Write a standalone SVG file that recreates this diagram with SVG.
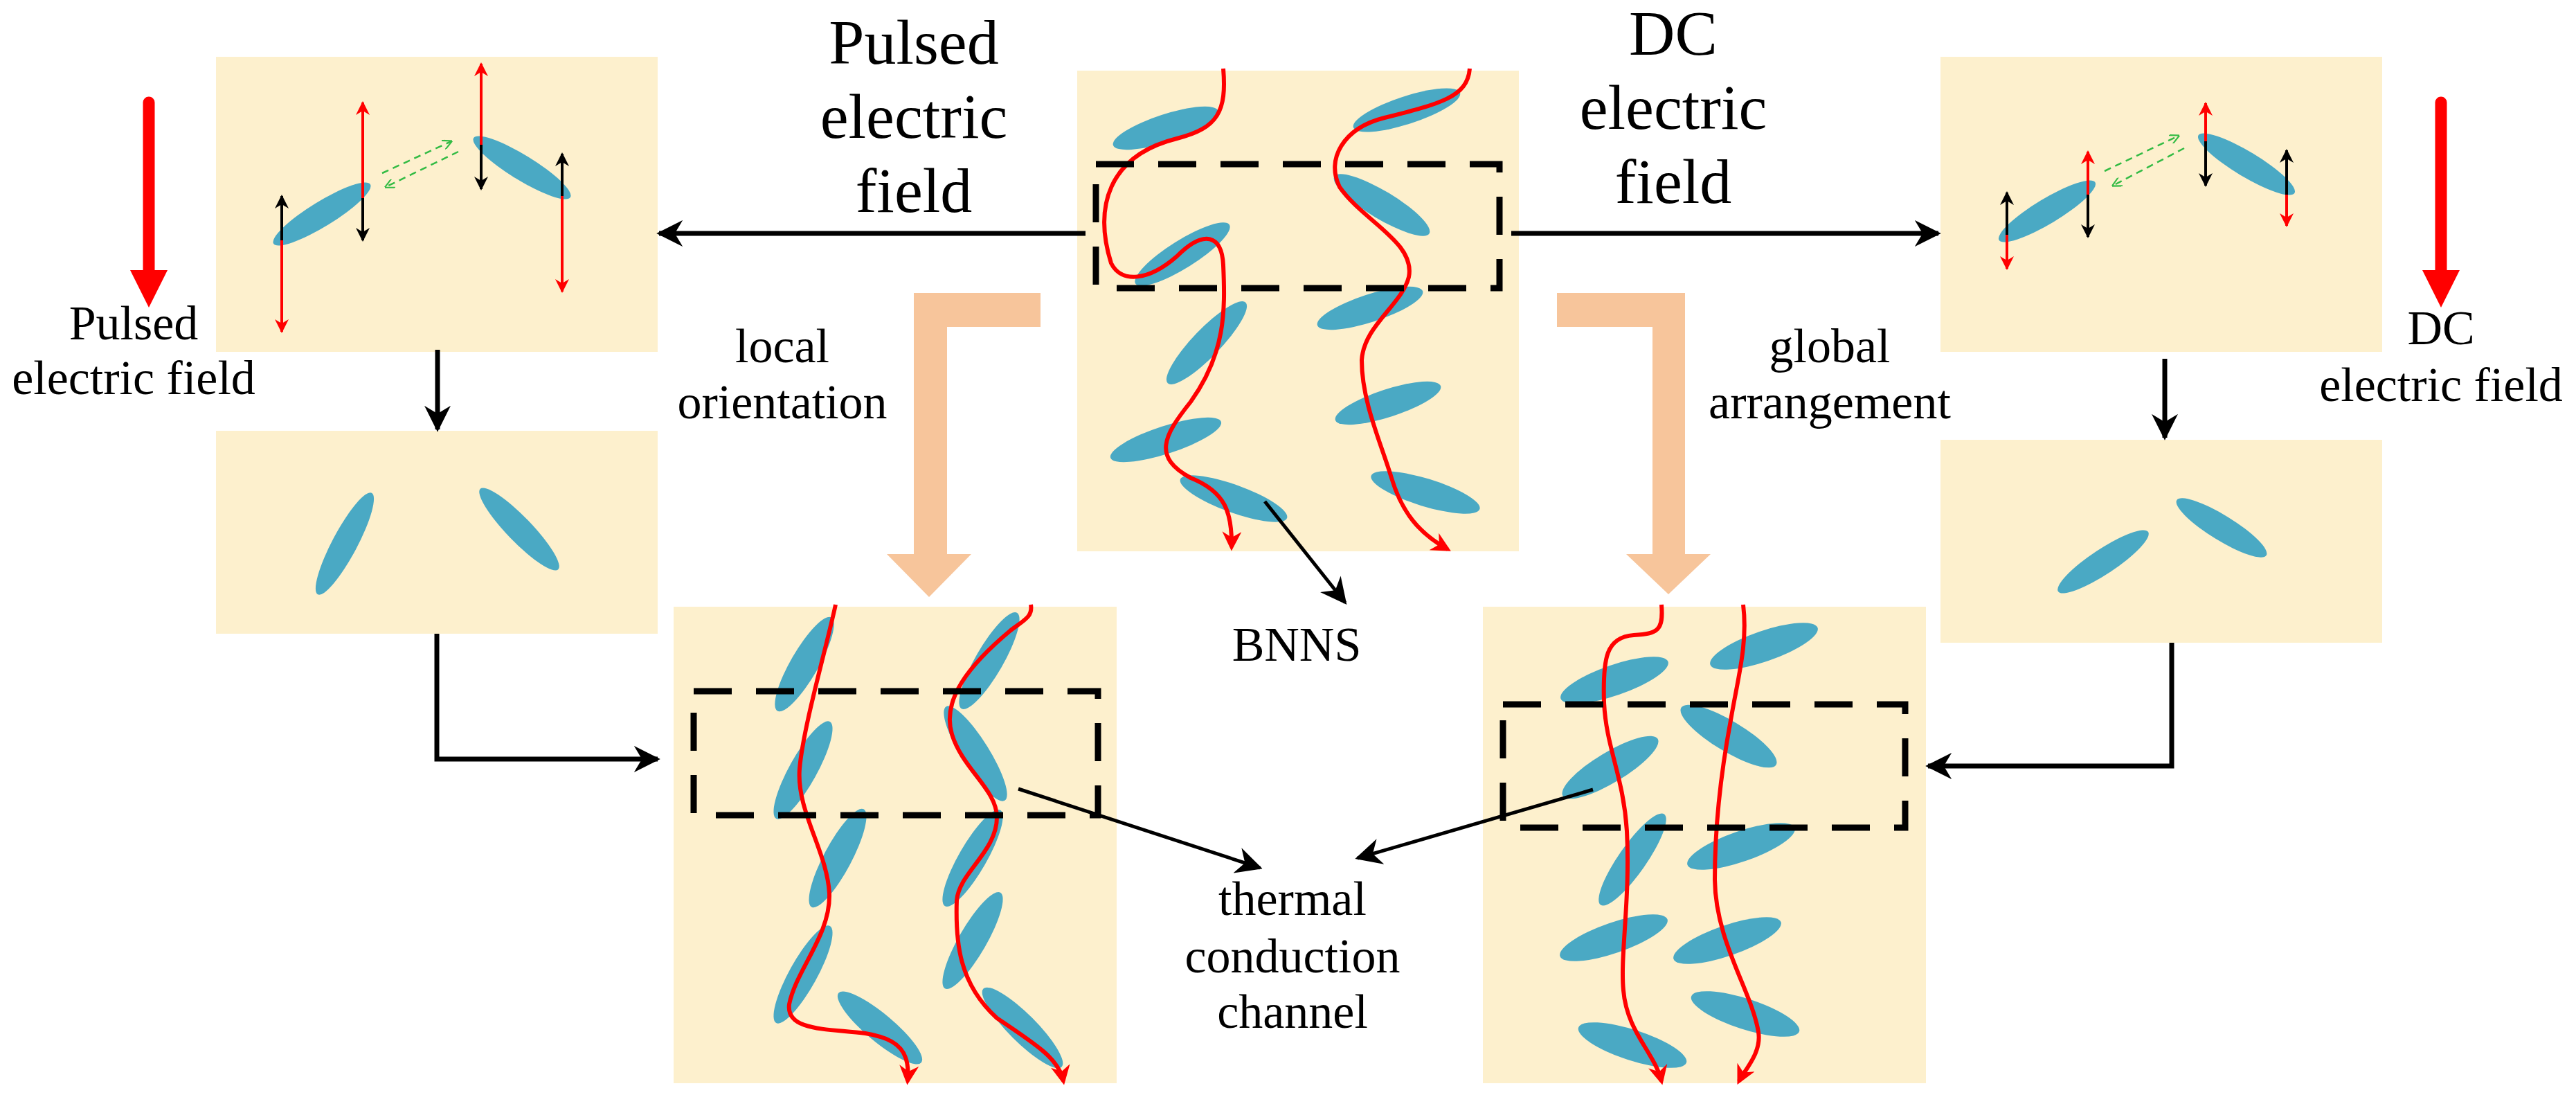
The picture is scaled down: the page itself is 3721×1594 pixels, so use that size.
<svg xmlns="http://www.w3.org/2000/svg" width="3721" height="1594" viewBox="0 0 3721 1594">
<defs>
<style>
.box{fill:#fdf0cd}
.e{fill:#4aa9c4}
.rc{fill:none;stroke:#ff0000;stroke-width:6;marker-end:url(#rh)}
.ra{stroke:#ff0000;stroke-width:4;marker-end:url(#rs)}
.ba{stroke:#000;stroke-width:4;marker-end:url(#bs)}
.gd{stroke:#33bb44;stroke-width:2.5;stroke-dasharray:10 7;marker-end:url(#gs);fill:none}
.con{fill:none;stroke:#000;stroke-width:7;marker-end:url(#bh)}
.dash{fill:none;stroke:#000;stroke-width:9;stroke-dasharray:55 35}
.pe{fill:#f7c59b}
.t{font-family:"Liberation Serif",serif;fill:#000;text-anchor:middle}
.big{font-size:92px}
.sm{font-size:70px}
</style>
<marker id="rh" markerUnits="userSpaceOnUse" viewBox="0 0 10 10" refX="8" refY="5" markerWidth="32" markerHeight="28" orient="auto"><path d="M0,0 L10,5 L0,10 L3,5 z" fill="#ff0000"/></marker>
<marker id="rs" markerUnits="userSpaceOnUse" viewBox="0 0 10 10" refX="9" refY="5" markerWidth="28" markerHeight="20" orient="auto"><path d="M0,0 L10,5 L0,10 L3,5 z" fill="#ff0000"/></marker>
<marker id="bs" markerUnits="userSpaceOnUse" viewBox="0 0 10 10" refX="9" refY="5" markerWidth="28" markerHeight="20" orient="auto"><path d="M0,0 L10,5 L0,10 L3,5 z" fill="#000"/></marker>
<marker id="gs" markerUnits="userSpaceOnUse" viewBox="0 0 10 10" refX="9" refY="5" markerWidth="14" markerHeight="14" orient="auto"><path d="M0,0 L10,5 L0,10" fill="none" stroke="#33bb44" stroke-width="1.5"/></marker>
<marker id="bh" markerUnits="userSpaceOnUse" viewBox="0 0 10 10" refX="9" refY="5" markerWidth="38" markerHeight="38" orient="auto"><path d="M0,0 L10,5 L0,10 L3,5 z" fill="#000"/></marker>
</defs>

<g id="boxA">
<rect class="box" x="312" y="82" width="638" height="426"/>
<ellipse class="e" cx="465" cy="309" rx="82" ry="18" transform="rotate(-31.5 465 309)"/>
<ellipse class="e" cx="754" cy="242" rx="82" ry="18" transform="rotate(31.5 754 242)"/>
<line class="ba" x1="407" y1="347" x2="407" y2="283"/><line class="ra" x1="407" y1="347" x2="407" y2="479"/>
<line class="ra" x1="524" y1="286" x2="524" y2="148"/><line class="ba" x1="524" y1="286" x2="524" y2="347"/>
<line class="ra" x1="695" y1="209" x2="695" y2="92"/><line class="ba" x1="695" y1="209" x2="695" y2="273"/>
<line class="ba" x1="812" y1="283" x2="812" y2="222"/><line class="ra" x1="812" y1="283" x2="812" y2="421"/>
<line class="gd" x1="552" y1="250" x2="652" y2="204"/>
<line class="gd" x1="662" y1="219" x2="557" y2="270"/>
</g>

<g id="fieldL">
<line x1="215" y1="148" x2="215" y2="395" stroke="#ff0000" stroke-width="17" stroke-linecap="round"/>
<polygon points="188,390 242,390 215,444" fill="#ff0000"/>
<text class="t sm" x="193" y="490">Pulsed</text>
<text class="t sm" x="193" y="569">electric field</text>
</g>

<g id="boxB">
<rect class="box" x="312" y="622" width="638" height="293"/>
<ellipse class="e" cx="498" cy="785" rx="83" ry="18" transform="rotate(-62 498 785)"/>
<ellipse class="e" cx="750" cy="764" rx="81" ry="18" transform="rotate(46 750 764)"/>
</g>

<g id="boxC">
<rect class="box" x="1556" y="102" width="638" height="694"/>
<ellipse class="e" cx="1684" cy="185" rx="80" ry="20" transform="rotate(-18 1684 185)"/>
<ellipse class="e" cx="1708" cy="367" rx="80" ry="20" transform="rotate(-32 1708 367)"/>
<ellipse class="e" cx="1743" cy="495" rx="81" ry="20" transform="rotate(-46 1743 495)"/>
<ellipse class="e" cx="1684" cy="635" rx="84" ry="20" transform="rotate(-18 1684 635)"/>
<ellipse class="e" cx="1782" cy="720" rx="82" ry="20" transform="rotate(20 1782 720)"/>
<ellipse class="e" cx="2032" cy="159" rx="81" ry="20" transform="rotate(-18 2032 159)"/>
<ellipse class="e" cx="1996" cy="296" rx="80" ry="20" transform="rotate(31 1996 296)"/>
<ellipse class="e" cx="1979" cy="445" rx="80" ry="20" transform="rotate(-18 1979 445)"/>
<ellipse class="e" cx="2005" cy="582" rx="80" ry="20" transform="rotate(-18 2005 582)"/>
<ellipse class="e" cx="2059" cy="711" rx="82" ry="20" transform="rotate(17 2059 711)"/>
<path class="rc" d="M1767,99 C1772,160 1760,185 1700,200 C1600,225 1580,300 1605,380 C1620,410 1660,405 1700,370 C1740,330 1765,340 1767,383 C1770,450 1770,510 1720,580 C1680,630 1665,660 1720,690 C1770,710 1780,740 1779,790"/>
<path class="rc" d="M2123,99 C2120,140 2080,150 2000,170 C1940,185 1915,230 1935,270 C1970,320 2045,350 2035,400 C2025,440 1970,470 1967,520 C1967,580 1995,640 2010,690 C2025,740 2050,770 2091,793"/>
<rect class="dash" x="1583" y="237" width="583" height="179"/>
</g>

<g id="boxD">
<rect class="box" x="2803" y="82" width="638" height="426"/>
<ellipse class="e" cx="2957" cy="305" rx="81" ry="18" transform="rotate(-31 2957 305)"/>
<ellipse class="e" cx="3245" cy="237" rx="81" ry="18" transform="rotate(31 3245 237)"/>
<line class="ba" x1="2899" y1="339" x2="2899" y2="278"/><line class="ra" x1="2899" y1="339" x2="2899" y2="388"/>
<line class="ra" x1="3016" y1="281" x2="3016" y2="219"/><line class="ba" x1="3016" y1="281" x2="3016" y2="342"/>
<line class="ra" x1="3186" y1="204" x2="3186" y2="149"/><line class="ba" x1="3186" y1="204" x2="3186" y2="268"/>
<line class="ba" x1="3303" y1="281" x2="3303" y2="217"/><line class="ra" x1="3303" y1="281" x2="3303" y2="326"/>
<line class="gd" x1="3040" y1="247" x2="3147" y2="196"/>
<line class="gd" x1="3155" y1="214" x2="3052" y2="268"/>
</g>

<g id="fieldR">
<line x1="3526" y1="148" x2="3526" y2="395" stroke="#ff0000" stroke-width="17" stroke-linecap="round"/>
<polygon points="3499,390 3553,390 3526,444" fill="#ff0000"/>
<text class="t sm" x="3526" y="497">DC</text>
<text class="t sm" x="3526" y="579">electric field</text>
</g>

<g id="boxE">
<rect class="box" x="2803" y="635" width="638" height="293"/>
<ellipse class="e" cx="3038" cy="811" rx="78" ry="18" transform="rotate(-33.5 3038 811)"/>
<ellipse class="e" cx="3209" cy="762" rx="76" ry="18" transform="rotate(31.6 3209 762)"/>
</g>

<g id="boxF">
<rect class="box" x="973" y="876" width="640" height="688"/>
<ellipse class="e" cx="1162" cy="959" rx="78" ry="20" transform="rotate(-60 1162 959)"/>
<ellipse class="e" cx="1160" cy="1112" rx="80" ry="20" transform="rotate(-61 1160 1112)"/>
<ellipse class="e" cx="1210" cy="1239" rx="80" ry="20" transform="rotate(-62 1210 1239)"/>
<ellipse class="e" cx="1160" cy="1407" rx="80" ry="20" transform="rotate(-61 1160 1407)"/>
<ellipse class="e" cx="1271" cy="1484" rx="78" ry="20" transform="rotate(40 1271 1484)"/>
<ellipse class="e" cx="1429" cy="954" rx="80" ry="20" transform="rotate(-60 1429 954)"/>
<ellipse class="e" cx="1409" cy="1088" rx="80" ry="20" transform="rotate(58 1409 1088)"/>
<ellipse class="e" cx="1405" cy="1239" rx="80" ry="20" transform="rotate(-60 1405 1239)"/>
<ellipse class="e" cx="1405" cy="1358" rx="80" ry="20" transform="rotate(-60 1405 1358)"/>
<ellipse class="e" cx="1477" cy="1484" rx="80" ry="20" transform="rotate(45 1477 1484)"/>
<path class="rc" d="M1207,873 C1195,930 1160,1050 1155,1110 C1150,1170 1195,1230 1198,1290 C1200,1350 1150,1400 1140,1450 C1135,1490 1200,1485 1250,1492 C1300,1500 1315,1520 1311,1561"/>
<path class="rc" d="M1489,873 C1492,890 1480,895 1460,910 C1400,960 1360,1010 1375,1060 C1390,1110 1440,1140 1440,1180 C1440,1230 1385,1260 1382,1300 C1380,1360 1385,1420 1440,1470 C1500,1510 1530,1530 1536,1561"/>
<rect class="dash" x="1002" y="998" width="584" height="179"/>
</g>

<g id="boxG">
<rect class="box" x="2142" y="876" width="640" height="688"/>
<ellipse class="e" cx="2548" cy="933" rx="82" ry="22" transform="rotate(-19 2548 933)"/>
<ellipse class="e" cx="2332" cy="982" rx="82" ry="22" transform="rotate(-19 2332 982)"/>
<ellipse class="e" cx="2497" cy="1063" rx="80" ry="22" transform="rotate(31 2497 1063)"/>
<ellipse class="e" cx="2326" cy="1108" rx="80" ry="22" transform="rotate(-31 2326 1108)"/>
<ellipse class="e" cx="2358" cy="1241" rx="80" ry="20" transform="rotate(-55 2358 1241)"/>
<ellipse class="e" cx="2515" cy="1222" rx="82" ry="22" transform="rotate(-19 2515 1222)"/>
<ellipse class="e" cx="2331" cy="1354" rx="82" ry="22" transform="rotate(-19 2331 1354)"/>
<ellipse class="e" cx="2495" cy="1358" rx="82" ry="22" transform="rotate(-19 2495 1358)"/>
<ellipse class="e" cx="2521" cy="1464" rx="82" ry="22" transform="rotate(18 2521 1464)"/>
<ellipse class="e" cx="2358" cy="1509" rx="82" ry="22" transform="rotate(18 2358 1509)"/>
<path class="rc" d="M2400,873 C2403,910 2395,915 2360,917 C2320,920 2315,950 2317,1014 C2320,1080 2345,1120 2350,1200 C2355,1300 2340,1380 2345,1430 C2350,1490 2390,1520 2400,1561"/>
<path class="rc" d="M2518,873 C2525,930 2510,980 2500,1040 C2485,1120 2477,1200 2477,1270 C2478,1360 2530,1430 2540,1490 C2545,1520 2520,1545 2512,1561"/>
<rect class="dash" x="2171" y="1017" width="581" height="178"/>
</g>

<g id="peachL">
<path class="pe" d="M1320,423 H1503 V472 H1368 V800 H1403 L1342,862 L1281,800 H1320 Z"/>
</g>
<g id="peachR">
<path class="pe" d="M2249,423 H2434 V800 H2471 L2410,858 L2349,800 H2387 V472 H2249 Z"/>
</g>

<g id="labels">
<text class="t big" x="1320" y="92">Pulsed</text>
<text class="t big" x="1320" y="199">electric</text>
<text class="t big" x="1320" y="306">field</text>
<text class="t big" x="2417" y="79">DC</text>
<text class="t big" x="2417" y="186">electric</text>
<text class="t big" x="2417" y="293">field</text>
<text class="t sm" x="1130" y="523">local</text>
<text class="t sm" x="1130" y="604">orientation</text>
<text class="t sm" x="2643" y="523">global</text>
<text class="t sm" x="2643" y="604">arrangement</text>
<text class="t sm" x="1873" y="954">BNNS</text>
<text class="t sm" x="1867" y="1321">thermal</text>
<text class="t sm" x="1867" y="1404">conduction</text>
<text class="t sm" x="1867" y="1484">channel</text>
</g>

<g id="connectors">
<line class="con" x1="1568" y1="337" x2="952" y2="337"/>
<line class="con" x1="2183" y1="337" x2="2800" y2="337"/>
<line class="con" x1="632" y1="505" x2="632" y2="620"/>
<line class="con" x1="3127" y1="518" x2="3127" y2="632"/>
<polyline class="con" points="631,915 631,1096 950,1096"/>
<polyline class="con" points="3137,928 3137,1106 2785,1106"/>
<line class="con" x1="1827" y1="724" x2="1943" y2="870" style="stroke-width:5"/>
<line class="con" x1="1471" y1="1139" x2="1820" y2="1253" style="stroke-width:5"/>
<line class="con" x1="2301" y1="1140" x2="1961" y2="1239" style="stroke-width:5"/>
</g>
</svg>
